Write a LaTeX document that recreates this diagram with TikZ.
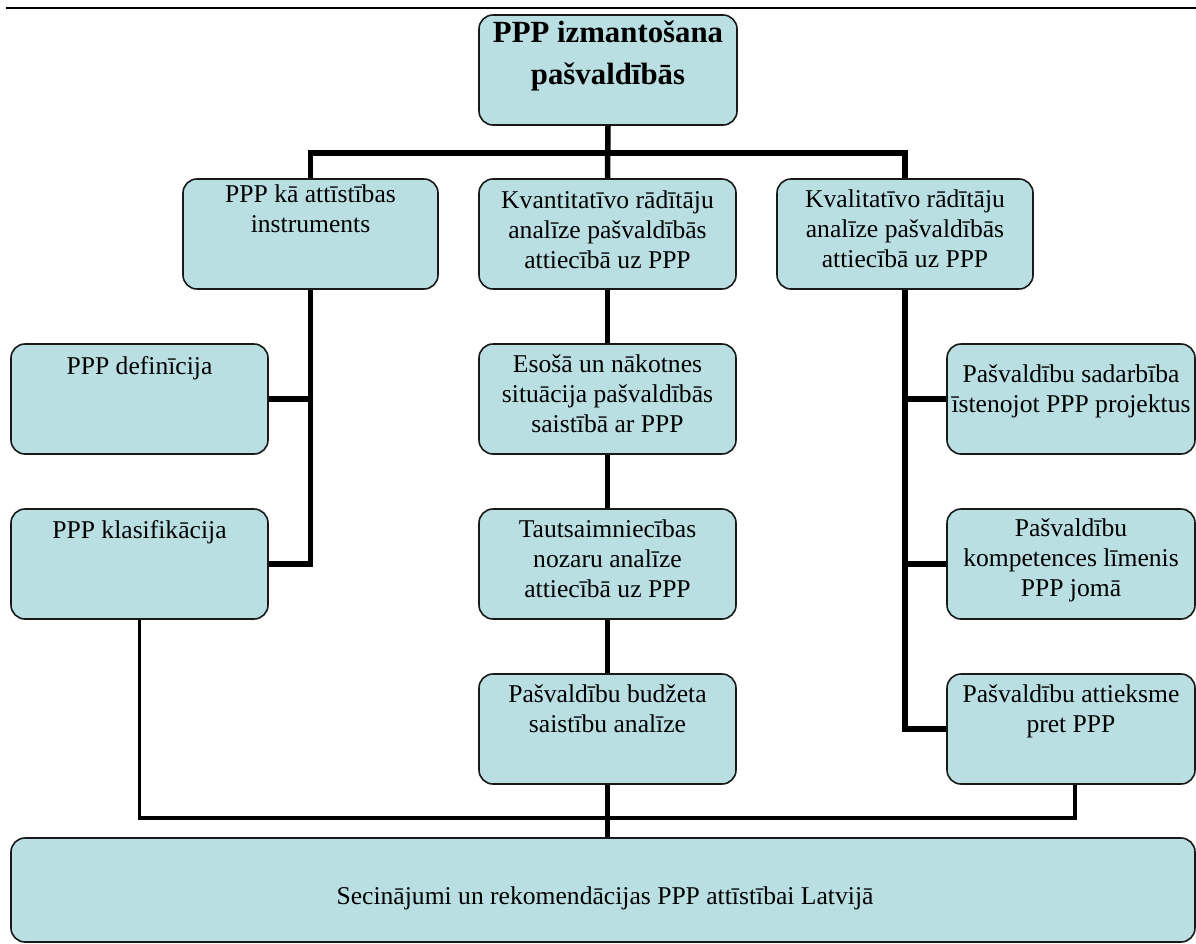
\documentclass[tikz,border=0pt]{standalone}
\usepackage{fontspec}
\setmainfont{Liberation Serif}
\definecolor{boxfill}{RGB}{185,223,227}
\definecolor{boxline}{RGB}{25,25,25}
\tikzset{
  box/.style={draw=boxline, line width=1.6pt, fill=boxfill, rounded corners=14pt, inner sep=0pt},
  txt/.style={align=center, inner sep=0pt, anchor=north, font=\fontsize{25.6}{30}\selectfont},
  ttl/.style={align=center, inner sep=0pt, anchor=north, font=\fontsize{30.8}{42}\selectfont\bfseries},
  thickline/.style={line width=5.5pt, black},
  thinline/.style={line width=3.5pt, black},
}
\begin{document}
\begin{tikzpicture}[x=1pt,y=-1pt]
\useasboundingbox (0,0) rectangle (1196,943);
% top rule
\draw[line width=2pt] (6,8) -- (1196,8);
% boxes
\node[box, minimum width=258pt, minimum height=110pt] (T) at (608,70) {};
\node[box, minimum width=255pt, minimum height=110pt] (A) at (310.5,234) {};
\node[box, minimum width=257pt, minimum height=110pt] (B) at (607.5,234) {};
\node[box, minimum width=256pt, minimum height=110pt] (C) at (905,234) {};
\node[box, minimum width=257pt, minimum height=110pt] (D) at (139.5,399) {};
\node[box, minimum width=257pt, minimum height=110pt] (E) at (139.5,564) {};
\node[box, minimum width=257pt, minimum height=110pt] (F) at (607.5,399) {};
\node[box, minimum width=257pt, minimum height=110pt] (G) at (607.5,564) {};
\node[box, minimum width=257pt, minimum height=110pt] (H) at (607.5,729) {};
\node[box, minimum width=248pt, minimum height=110pt] (I) at (1071,399) {};
\node[box, minimum width=248pt, minimum height=110pt] (J) at (1071,564) {};
\node[box, minimum width=248pt, minimum height=110pt] (K) at (1071,729) {};
\node[box, minimum width=1184pt, minimum height=104pt] (L) at (603,890) {};
% texts
\node[ttl] (tT) at ([yshift=1pt]T.north) {\strut PPP izmantošana\\pašvaldībās};
\node[txt] (tA) at ([yshift=-3pt]A.north) {\strut PPP kā attīstības\\instruments};
\node[txt] (tB) at ([yshift=-9pt]B.north) {\strut Kvantitatīvo rādītāju\\analīze pašvaldībās\\attiecībā uz PPP};
\node[txt] (tC) at ([yshift=-8pt]C.north) {\strut Kvalitatīvo rādītāju\\analīze pašvaldībās\\attiecībā uz PPP};
\node[txt] (tD) at ([yshift=-10pt]D.north) {\strut PPP definīcija};
\node[txt] (tE) at ([yshift=-9pt]E.north) {\strut PPP klasifikācija};
\node[txt] (tF) at ([yshift=-8pt]F.north) {\strut Esošā un nākotnes\\situācija pašvaldībās\\saistībā ar PPP};
\node[txt] (tG) at ([yshift=-8pt]G.north) {\strut Tautsaimniecības\\nozaru analīze\\attiecībā uz PPP};
\node[txt] (tH) at ([yshift=-8pt]H.north) {\strut Pašvaldību budžeta\\saistību analīze};
\node[txt] (tI) at ([yshift=-18pt]I.north) {\strut Pašvaldību sadarbība\\īstenojot PPP projektus};
\node[txt] (tJ) at ([yshift=-7pt]J.north) {\strut Pašvaldību\\kompetences līmenis\\PPP jomā};
\node[txt] (tK) at ([yshift=-8pt]K.north) {\strut Pašvaldību attieksme\\pret PPP};
\node[anchor=base, inner sep=0pt, font=\fontsize{25.6}{30}\selectfont] (tL) at (605,904) {Secinājumi un rekomendācijas PPP attīstībai Latvijā};
% connectors
\coordinate (bus) at (0,153);
\coordinate (bus2) at (0,818);
\draw[thickline] (T.south) -- (B.north);
\draw[thickline] (A.north) -- (A.north |- bus) -- (C.north |- bus) -- (C.north);
\draw[thickline] (A.south) |- (E.east);
\draw[thickline] (D.east) -- (D.east -| A.south);
\draw[thickline] (B.south) -- (F.north);
\draw[thickline] (F.south) -- (G.north);
\draw[thickline] (G.south) -- (H.north);
\draw[thickline] (H.south) -- (H.south |- L.north);
\draw[thickline] (C.south) |- (K.west);
\draw[thickline] (I.west) -- (I.west -| C.south);
\draw[thickline] (J.west) -- (J.west -| C.south);
\coordinate (kb) at ([xshift=4pt]K.south);
\draw[thinline] (E.south) |- (bus2 -| kb) -- (kb);
\end{tikzpicture}
\end{document}
